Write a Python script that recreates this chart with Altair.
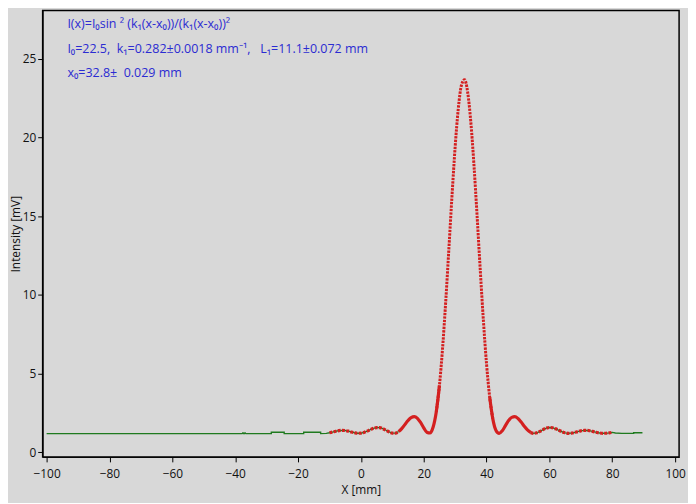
import altair as alt
import pandas as pd

# fitted curve, x in mm, intensity in mV
fit_x = list(range(-10, 81))
fit_y = [1.235, 1.280, 1.329, 1.370, 1.387, 1.377, 1.339, 1.285, 1.234, 1.203,
         1.208, 1.255, 1.335, 1.432, 1.517, 1.566, 1.560, 1.498, 1.396, 1.286,
         1.212, 1.211, 1.308, 1.499, 1.753, 2.011, 2.202, 2.260, 2.152, 1.890,
         1.551, 1.269, 1.222, 1.601, 2.573, 4.240, 6.612, 9.576, 12.910, 16.298,
         19.398, 21.834, 23.320, 23.676, 22.853, 20.953, 18.213, 14.962, 11.550, 8.331,
         5.583, 3.488, 2.105, 1.387, 1.201, 1.365, 1.689, 2.010, 2.215, 2.256,
         2.138, 1.912, 1.648, 1.413, 1.257, 1.200, 1.235, 1.328, 1.440, 1.529,
         1.570, 1.552, 1.486, 1.393, 1.300, 1.231, 1.201, 1.211, 1.253, 1.307,
         1.357, 1.384, 1.383, 1.356, 1.310, 1.261, 1.221, 1.202, 1.204, 1.226,
         1.258]

# measured data tails (green)
left_x = [-100, -37.8, -37.6, -37.4, -37.2, -37.0, -36.8, -36.6, -36.0,
          -28.5, -28.5, -24.4, -24.4, -18.2, -18.2, -12.8, -12.8, -11]
left_y = [1.18, 1.18, 1.22, 1.18, 1.22, 1.18, 1.22, 1.18, 1.18,
          1.18, 1.27, 1.27, 1.18, 1.18, 1.27, 1.27, 1.18, 1.2]
right_x = [81, 83, 86.8, 86.8, 89.6]
right_y = [1.22, 1.2, 1.2, 1.24, 1.24]

NB = "\u00a0"
text_lines = [
    "I(x)=I\u2080sin \u00b2 (k\u2081(x-x\u2080))/(k\u2081(x-x\u2080))\u00b2",
    f"I\u2080=22.5,{NB}{NB}k\u2081=0.282\u00b10.0018 mm\u207b\u00b9,{NB}{NB}{NB}L\u2081=11.1\u00b10.072 mm",
    f"x\u2080=32.8\u00b1{NB}{NB}0.029 mm",
]

fit = pd.DataFrame({"x": fit_x, "y": fit_y})
outer_l = fit[fit.x <= 12]
outer_r = fit[fit.x >= 54]
inner_l = fit[(fit.x >= 12) & (fit.x <= 25)]
inner_r = fit[(fit.x >= 41) & (fit.x <= 54)]
main = fit[(fit.x >= 24) & (fit.x <= 42)]

green_l = pd.concat([pd.DataFrame({"x": left_x, "y": left_y}), outer_l], ignore_index=True)
green_l["i"] = range(len(green_l))
green_r = pd.concat([outer_r, pd.DataFrame({"x": right_x, "y": right_y})], ignore_index=True)
green_r["i"] = range(len(green_r))

xs = alt.Scale(domain=[-101.26, 101.26], nice=False, zero=False)
ys = alt.Scale(domain=[-0.3, 28.07], nice=False, zero=False)

common = dict(grid=False, domainColor="black", tickColor="black", labelColor="#111",
              titleColor="#111", labelFontSize=12, titleFontSize=12,
              titleFontWeight="normal", labelFont="Open Sans", titleFont="Open Sans")

x_axis = alt.Axis(title="X [mm]", values=list(range(-100, 101, 20)), tickSize=5,
                  labelPadding=7, titlePadding=5, **common)
y_axis = alt.Axis(title="Intensity [mV]", values=list(range(0, 26, 5)), tickSize=5,
                  labelPadding=2, titleX=-20, titleAngle=270, titleBaseline="bottom",
                  **common)

RED = "#d42020"
GREEN = "#1f7a1f"

X = alt.X("x:Q", scale=xs, axis=x_axis)
Y = alt.Y("y:Q", scale=ys, axis=y_axis)


def green_line(df):
    return alt.Chart(df).mark_line(color=GREEN, strokeWidth=1.4).encode(x=X, y=Y, order="i:Q")


def red_line(df, dash=None, width=3.2):
    kw = dict(color=RED, strokeWidth=width, interpolate="monotone")
    if dash:
        kw["strokeDash"] = dash
    return alt.Chart(df).mark_line(**kw).encode(x=X, y=Y)


texts = []
for k, t in enumerate(text_lines):
    texts.append(
        alt.Chart(pd.DataFrame({"t": [t]})).mark_text(
            align="left", baseline="middle", color="#2b2bd2", fontSize=12.6, font="Open Sans"
        ).encode(x=alt.value(25), y=alt.value(14 + 24.5 * k), text="t:N")
    )

chart = alt.layer(
    green_line(green_l),
    green_line(green_r),
    red_line(outer_l, dash=[3, 1.3]),
    red_line(outer_r, dash=[3, 1.3]),
    red_line(inner_l),
    red_line(inner_r),
    red_line(main, dash=[2.4, 1.1], width=3),
    *texts,
).properties(
    width=643, height=451,
    autosize=alt.AutoSizeParams(type="none"),
    padding={"left": 35, "top": 0, "right": 9, "bottom": 44},
    background="#d8d8d8",
).configure_view(stroke="black", strokeWidth=1.5)

chart.save("out.html", embed_options={"renderer": "svg", "actions": False})
